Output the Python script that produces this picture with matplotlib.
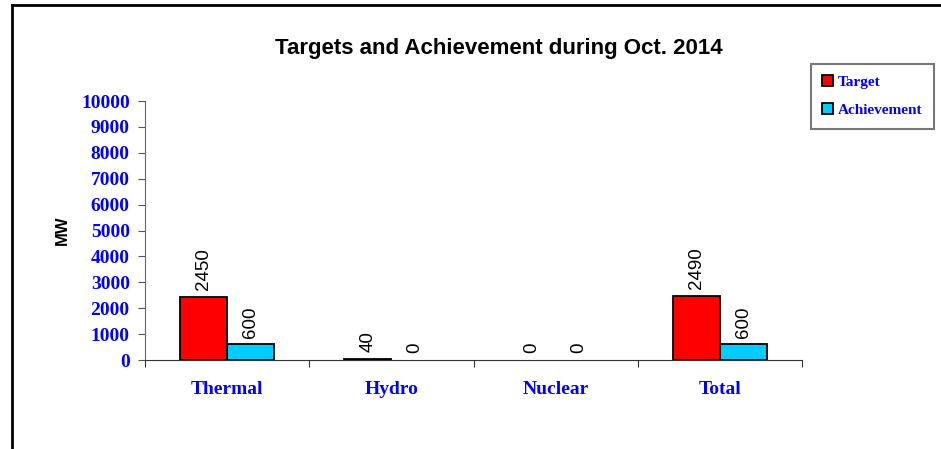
import numpy as np
import matplotlib
matplotlib.use("Agg")
import matplotlib.pyplot as plt
from matplotlib.lines import Line2D

categories = ["Thermal", "Hydro", "Nuclear", "Total"]
target = [2450, 40, 0, 2490]
achievement = [600, 0, 0, 600]
yticks = list(range(0, 10001, 1000))

fig = plt.figure(figsize=(9.41, 4.49), dpi=100)
ax = fig.add_axes([0.1541, 0.1982, 0.6982, 0.5768])

x = np.arange(len(categories))
w = 0.287
b1 = ax.bar(x - w / 2, target, w, color="#ff0000", edgecolor="black", linewidth=1.3, label="Target")
b2 = ax.bar(x + w / 2, achievement, w, color="#00ccff", edgecolor="black", linewidth=1.3, label="Achievement")

for bars in (b1, b2):
    for r in bars:
        h = r.get_height()
        if h == 0:
            r.set_visible(False)
        ax.annotate(f"{h:.0f}", (r.get_x() + r.get_width() / 2, h), xytext=(0, 5),
                    textcoords="offset points", rotation=90, ha="center", va="bottom",
                    fontsize=13.5, family="Liberation Sans")

ax.set_ylim(0, 10000)
ax.set_xlim(-0.5, 3.5)
ax.set_yticks(yticks)
ax.set_yticklabels([str(v) for v in yticks], color="#0000ff", fontsize=14,
                   family="Liberation Serif", fontweight="bold")
ax.set_xticks(np.arange(-0.5, 3.6, 1))
ax.set_xticklabels([])
ax.set_xticks(x, minor=True)
ax.set_xticklabels(categories, minor=True, color="#0000ff", fontsize=14,
                   family="Liberation Serif", fontweight="bold")
ax.tick_params(axis="x", which="minor", length=0, pad=15)
ax.tick_params(axis="x", which="major", length=5, color="#333333")
ax.tick_params(axis="y", length=5, color="#555555", pad=6)

for s in ("top", "right"):
    ax.spines[s].set_visible(False)
ax.spines["left"].set_color("#666666")
ax.spines["bottom"].set_color("#333333")

ax.set_ylabel("MW", fontsize=12, family="Liberation Sans", fontweight="bold", labelpad=8)

fig.text(0.53, 0.893, "Targets and Achievement during Oct. 2014", ha="center", va="center",
         fontsize=16, family="Liberation Sans", fontweight="bold")

leg = fig.legend(loc="upper left", bbox_to_anchor=(0.8535, 0.875), fancybox=False,
                 edgecolor="#555555", handlelength=0.7, handleheight=0.7, handletextpad=0.3,
                 labelspacing=0.95, borderpad=0.75,
                 prop={"family": "Liberation Serif", "weight": "bold", "size": 11})
for t in leg.get_texts():
    t.set_color("#0000ff")
leg.get_frame().set_linewidth(1.5)

fig.add_artist(Line2D([0.013, 0.013], [0, 0.989], color="black", linewidth=2, transform=fig.transFigure))
fig.add_artist(Line2D([0.013, 1], [0.989, 0.989], color="black", linewidth=2, transform=fig.transFigure))

fig.savefig("out.png", dpi=100)
